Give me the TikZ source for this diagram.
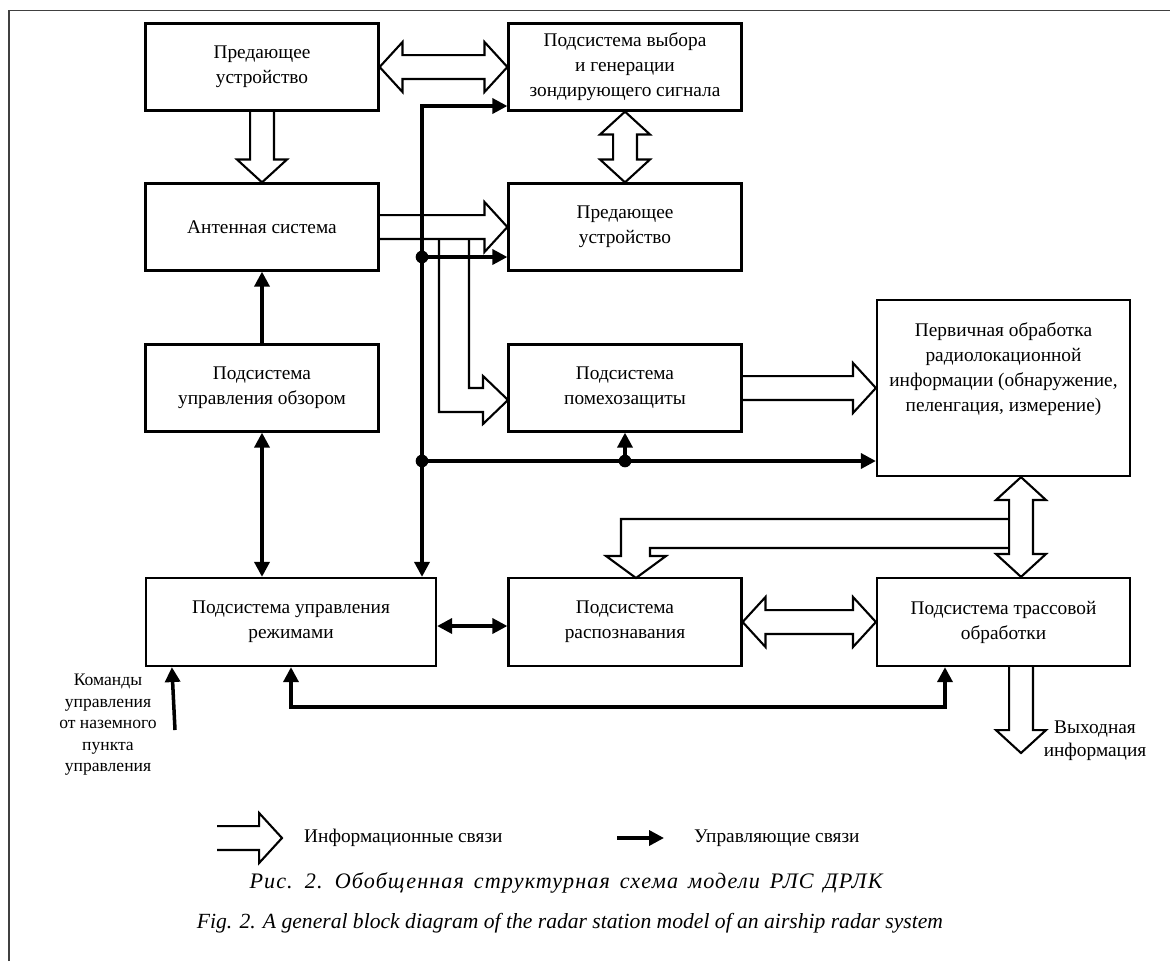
\documentclass[tikz,border=0pt]{standalone}
\usepackage{fontspec}
\setmainfont{Liberation Serif}
\usetikzlibrary{arrows.meta,calc}

% hollow information arrows, shaft 6.8pt, head 14.2pt x 13pt
\newcommand\infoarrow[2]{%
  \coordinate (ia-b) at ($(#2)!13pt!(#1)$);
  \draw[infoline] ($(#1)!6.8pt!90:(#2)$) -- ($(ia-b)!6.8pt!90:(#2)$) -- ($(ia-b)!14.2pt!90:(#2)$)
    -- (#2) -- ($(ia-b)!14.2pt!-90:(#2)$) -- ($(ia-b)!6.8pt!-90:(#2)$) -- ($(#1)!6.8pt!-90:(#2)$);
}
\newcommand\infodarrow[2]{%
  \coordinate (ia-a) at ($(#1)!13pt!(#2)$);
  \coordinate (ia-b) at ($(#2)!13pt!(#1)$);
  \draw[infoline] (#1) -- ($(ia-a)!14.2pt!90:(#2)$) -- ($(ia-a)!6.8pt!90:(#2)$)
    -- ($(ia-b)!6.8pt!-90:(#1)$) -- ($(ia-b)!14.2pt!-90:(#1)$) -- (#2)
    -- ($(ia-b)!14.2pt!90:(#1)$) -- ($(ia-b)!6.8pt!90:(#1)$)
    -- ($(ia-a)!6.8pt!-90:(#2)$) -- ($(ia-a)!14.2pt!-90:(#2)$) -- cycle;
}
\newcommand\capspace{\spaceskip=0.45em\relax}

\begin{document}
\begin{tikzpicture}[x=0.02cm, y=-0.02cm, >={Triangle[length=8.5pt,width=8.5pt]},
  box/.style={draw, line width=1.3pt, align=center, minimum width=4.66cm, minimum height=1.74cm,
    font=\fontsize{11}{14.2}\selectfont},
  infoline/.style={line width=1.2pt, line join=miter},
  ctrl/.style={line width=2pt}]
\useasboundingbox (0,0) rectangle (1170,961);
\draw[line width=1.1pt, black!75] (9,961) -- (9,10.5) -- (1170,10.5);

% blocks
\node[box] (tx1) at (262,67) {Предающее\\устройство};
\node[box] (sel) at (625,67) {Подсистема выбора\\и генерации\\зондирующего сигнала};
\node[box] (ant) at (262,227) {Антенная система};
\node[box] (tx2) at (625,227) {Предающее\\устройство};
\node[box] (view) at (262,388) {Подсистема\\управления обзором};
\node[box] (jam) at (625,388) {Подсистема\\помехозащиты};
\node[box, minimum width=5.06cm, minimum height=3.52cm] (prim) at (1003.5,388) {};
\node[align=center, font=\fontsize{11}{14.2}\selectfont] (primtxt) at ($(prim)+(0,-19)$)
  {Первичная обработка\\радиолокационной\\информации (обнаружение,\\пеленгация, измерение)};
\node[box, minimum width=5.8cm, minimum height=1.76cm] (mode) at (291,622) {Подсистема управления\\режимами};
\node[box, minimum height=1.76cm] (rec) at (625,622) {Подсистема\\распознавания};
\node[box, minimum width=5.06cm, minimum height=1.76cm] (trk) at (1003.5,622) {Подсистема трассовой\\обработки};

% information links
\infodarrow{tx1.east}{sel.west}
\infoarrow{tx1.south}{ant.north}
\infodarrow{sel.south}{tx2.north}
\infoarrow{ant.east}{tx2.west}
\draw[infoline] (439,239) -- (439,412) -- (483,412) -- (483,424) -- (508,400)
  -- (483,376) -- (483,388) -- (469,388) -- (469,239);
\infoarrow{jam.east}{jam.east -| prim.west}
\coordinate (pv1) at ($(prim.south)+(17.5,0)$);
\coordinate (pv2) at ($(trk.north)+(17.5,0)$);
\infodarrow{pv1}{pv2}
\draw[infoline] (1009,519) -- (621,519) -- (621,556) -- (606,556) -- (636,578)
  -- (666,556) -- (650,556) -- (650,548) -- (1009,548);
\infodarrow{rec.east}{trk.west}
\coordinate (out1) at ($(trk.south)+(17.5,0)$);
\coordinate (out2) at (1021,753);
\infoarrow{out1}{out2}

% control links
\coordinate (bustop) at (422,106);
\coordinate (busant) at (422,257);
\coordinate (busmid) at (422,461);
\coordinate (jamdot) at (625,461);
\draw[ctrl, <->] (sel.west |- bustop) -- (bustop) -- (bustop |- mode.north);
\draw[ctrl, ->] (busant) -- (busant -| tx2.west);
\draw[ctrl, ->] (busmid) -- (busmid -| prim.west);
\draw[ctrl, ->] (jamdot) -- (jam.south);
\fill (busant) circle (3.6pt);
\fill (busmid) circle (3.6pt);
\fill (jamdot) circle (3.6pt);
\draw[ctrl, ->] (view.north) -- (ant.south);
\draw[ctrl, <->] (view.south) -- (view.south |- mode.north);
\draw[ctrl, <->] ($(mode.east)+(0,4)$) -- ($(rec.west)+(0,4)$);
\coordinate (fbl) at (291,707);
\coordinate (fbr) at (945,707);
\draw[ctrl, <->] (mode.south) -- (fbl) -- (fbr) -- (fbr |- trk.south);
\coordinate (cmd) at (175,730);
\draw[ctrl, ->] (cmd) -- ($(mode.south west)+(27,0)$);

% labels
\node[align=center, font=\fontsize{10}{12.2}\selectfont] (cmdtxt) at (108,725)
  {Команды\\управления\\от наземного\\пункта\\управления};
\node[align=center, font=\fontsize{11}{13}\selectfont] (outtxt) at (1095,741) {Выходная\\информация};

% legend
\coordinate (lg1) at (217,838);
\coordinate (lg2) at (282,838);
\infoarrow{lg1}{lg2}
\node[anchor=west, font=\fontsize{11}{13}\selectfont] (lgtxt1) at (298,838) {Информационные связи};
\coordinate (lc1) at (617,838);
\coordinate (lc2) at (664,838);
\draw[ctrl, ->] (lc1) -- (lc2);
\node[anchor=west, font=\fontsize{11}{13}\selectfont] (lgtxt2) at (688,838) {Управляющие связи};

% captions
\node[font=\fontsize{12.6}{14}\selectfont\itshape\addfontfeatures{LetterSpace=5}] (cap1) at (566,883)
  {\capspace Рис. 2. Обобщенная структурная схема модели РЛС ДРЛК};
\node[font=\fontsize{12.3}{14}\selectfont\itshape] (cap2) at (570,923)
  {Fig. 2. A general block diagram of the radar station model of an airship radar system};
\end{tikzpicture}
\end{document}
